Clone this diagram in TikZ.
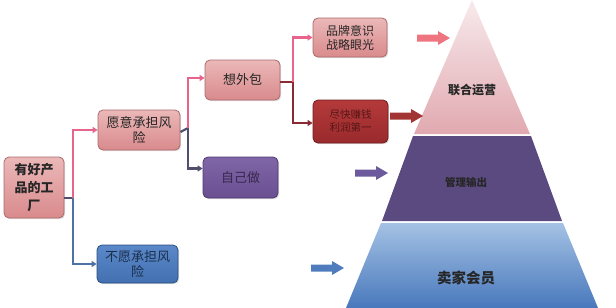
\documentclass[tikz,border=0pt]{standalone}
\usepackage{fontspec}
\setmainfont{Noto Sans CJK SC}
\usetikzlibrary{arrows.meta,shadows}
\definecolor{pinkTop}{HTML}{EBB8B8}
\definecolor{pinkBot}{HTML}{D98A8C}
\definecolor{pinkBorder}{HTML}{A86A6C}
\definecolor{purpTop}{HTML}{7F66A6}
\definecolor{purpBot}{HTML}{6A4F92}
\definecolor{purpBorder}{HTML}{4E3A70}
\definecolor{redTop}{HTML}{B43A3A}
\definecolor{redBot}{HTML}{9A2A2C}
\definecolor{redBorder}{HTML}{6E1C1E}
\definecolor{blueTop}{HTML}{5A88C8}
\definecolor{blueBot}{HTML}{4270B0}
\definecolor{blueBorder}{HTML}{2C4E80}
\definecolor{lnPink}{HTML}{E8648A}
\definecolor{lnBlue}{HTML}{4E72A8}
\definecolor{lnGray}{HTML}{50506E}
\definecolor{lnRed}{HTML}{8A2A32}
\definecolor{arPink}{HTML}{EE7480}
\definecolor{arRed}{HTML}{A23434}
\definecolor{arPurp}{HTML}{6C5A9C}
\definecolor{arBlue}{HTML}{4E7CBC}
\definecolor{pyrTop}{HTML}{F7EAEC}
\definecolor{pyrTopB}{HTML}{E1A9B0}
\definecolor{pyrMid}{HTML}{5A4A80}
\definecolor{pyrBotT}{HTML}{A4C2E4}
\definecolor{pyrBotB}{HTML}{4878BC}
\tikzset{
  box/.style={rounded corners=5pt, draw, line width=0.8pt, inner sep=0pt, align=center,
    drop shadow={opacity=0.25, shadow xshift=1.2pt, shadow yshift=-1.2pt},
    font=\fontsize{13}{15}\selectfont},
  pinkbox/.style={box, top color=pinkTop, bottom color=pinkBot, draw=pinkBorder, text=black!85},
  purpbox/.style={box, top color=purpTop, bottom color=purpBot, draw=purpBorder, text=purpBorder!70!black},
  redbox/.style={box, top color=redTop, bottom color=redBot, draw=redBorder, text=redBorder!80!black},
  bluebox/.style={box, top color=blueTop, bottom color=blueBot, draw=blueBorder, text=blueBorder!60!black},
  conn/.style={line width=2.2pt},
  tip/.style={-{Triangle[length=5pt,width=6pt]}},
  barrow/.pic={\path[pic actions] (0,-3.5) -- (21,-3.5) -- (21,-7) -- (33,0) -- (21,7) -- (21,3.5) -- (0,3.5) -- cycle;},
  pyrlabel/.style={font=\bfseries\fontsize{12}{14}\selectfont, text=black!85, inner sep=0pt}
}
\begin{document}
\begin{tikzpicture}[x=1pt,y=-1pt]
\useasboundingbox (0,0) rectangle (616,308);
% pyramid
\shade[top color=pyrTop, bottom color=pyrTopB] (472,0) -- (530,134) -- (414,134) -- cycle;
\fill[pyrMid] (413,136) -- (531,136) -- (562,221) -- (382,221) -- cycle;
\shade[top color=pyrBotT, bottom color=pyrBotB] (381,223) -- (563,223) -- (598,308) -- (346,308) -- cycle;
\node[pyrlabel] (l1) at (472,90) {联合运营};
\node[pyrlabel, font=\bfseries\fontsize{10.5}{12}\selectfont] (l2) at (466,182) {管理输出};
\node[pyrlabel, font=\bfseries\fontsize{14.5}{16}\selectfont] (l3) at (466,278) {卖家会员};
% block arrows
\pic[fill=arPink] at (417,38) {barrow};
\pic[fill=arRed] at (390,116) {barrow};
\pic[fill=arPurp] at (355,173) {barrow};
\pic[fill=arBlue] at (311,268) {barrow};
% boxes
\node[pinkbox, minimum width=60pt, minimum height=61pt, font=\bfseries\fontsize{13}{18}\selectfont] (factory) at (34,187.5) {有好产\\品的工\\厂};
\node[pinkbox, minimum width=82pt, minimum height=40pt] (yes) at (139,130) {愿意承担风\\险};
\node[bluebox, minimum width=81pt, minimum height=38pt] (no) at (137.5,264) {不愿承担风\\险};
\node[pinkbox, minimum width=75pt, minimum height=40pt] (out) at (242.5,80) {想外包};
\node[purpbox, minimum width=75pt, minimum height=41pt] (self) at (240.5,177.5) {自己做};
\node[pinkbox, minimum width=74pt, minimum height=39pt, font=\fontsize{12}{14}\selectfont] (brand) at (350,37.5) {品牌意识\\战略眼光};
\node[redbox, minimum width=75pt, minimum height=43pt, font=\fontsize{10.5}{13}\selectfont] (fast) at (350.5,121.5) {尽快赚钱\\利润第一};
% connectors
\coordinate (j1) at (73,198);
\draw[conn, lnGray] ([yshift=-10.5pt]factory.east) -- (j1);
\draw[conn, lnPink, tip] (j1) |- (yes.west);
\draw[conn, lnBlue, tip] (j1) |- (no.west);
\coordinate (j2) at (188,128);
\draw[conn, lnGray] ([yshift=-2pt]yes.east) -- (j2);
\draw[conn, lnPink, tip] (j2) |- ([yshift=2pt]out.west);
\draw[conn, lnGray, tip] (j2) |- ([yshift=9pt]self.west);
\coordinate (j3) at (293,82);
\draw[conn, lnRed] ([yshift=-2pt]out.east) -- (j3);
\draw[conn, lnPink, tip] (j3) |- (brand.west);
\draw[conn, lnRed, tip] (j3) |- ([yshift=-1.5pt]fast.west);
\end{tikzpicture}
\end{document}
